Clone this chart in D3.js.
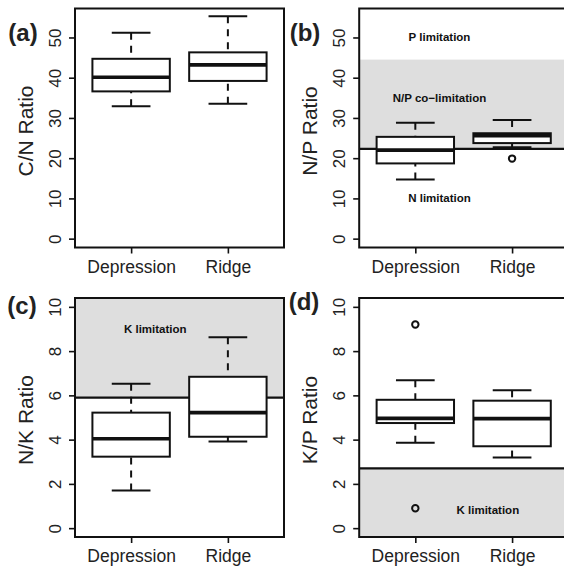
<!DOCTYPE html>
<html>
<head>
<meta charset="utf-8">
<script src="https://cdn.jsdelivr.net/npm/d3@7"></script>
<style>
  html, body { margin: 0; padding: 0; background: #fff; }
  svg { display: block; font-family: "Liberation Sans", Arial, Helvetica, sans-serif; }
</style>
</head>
<body>
<svg id="chart" width="564" height="572"></svg>
<script>
// Sites (x categories)
const categories = ["Depression", "Ridge"];

// Box statistics per site: [lower whisker, Q1, median, Q3, upper whisker]
const cnStats = [[32.9, 36.6, 40.1, 44.7, 51.2], [33.5, 39.2, 43.2, 46.3, 55.3]];
const cnOutliers = [[], []];
const npStats = [[14.7, 18.7, 22.0, 25.3, 28.8], [22.7, 23.75, 25.6, 26.2, 29.5]];
const npOutliers = [[], [19.9]];
const nkStats = [[1.70, 3.23, 4.04, 5.22, 6.53], [3.91, 4.13, 5.22, 6.84, 8.63]];
const nkOutliers = [[], []];
const kpStats = [[3.86, 4.75, 4.96, 5.80, 6.68], [3.19, 3.70, 4.95, 5.76, 6.23]];
const kpOutliers = [[9.2, 0.9], []];

// Axis ticks and limits
const ticksCN = [0, 10, 20, 30, 40, 50];
const ticksNP = [0, 10, 20, 30, 40, 50];
const ticksSmall = [0, 2, 4, 6, 8, 10];
const limitsLarge = [0, 55];
const limitsSmall = [0, 10];

// Nutrient limitation thresholds
const npLowerThreshold = 22.3;   // below: N limitation
const npUpperThreshold = 44.5;   // above: P limitation
const nkThreshold = 5.9;         // above: K limitation
const kpThreshold = 2.7;         // below: K limitation

// Zone labels: [x position (group units), y value, text]
const npLabels = [[1.25, 50, "P limitation"], [1.25, 35, "N/P co\u2212limitation"], [1.25, 10, "N limitation"]];
const nkLabels = [[1.25, 9, "K limitation"]];
const kpLabels = [[1.75, 0.8, "K limitation"]];

const svg = d3.select("#chart");

const panels = [
  { tag: "(a)", title: "C/N Ratio", stats: cnStats, outliers: cnOutliers, ticks: ticksCN, lim: limitsLarge,
    left: 75, top: 8.5, tagX: 23, tagY: 41, titleY: 131,
    shades: [], lines: [], labels: [] },
  { tag: "(b)", title: "N/P Ratio", stats: npStats, outliers: npOutliers, ticks: ticksNP, lim: limitsLarge,
    left: 359.2, top: 8.5, tagX: 305, tagY: 41, titleY: 131,
    shades: [[npLowerThreshold, npUpperThreshold]], lines: [npLowerThreshold], labels: npLabels },
  { tag: "(c)", title: "N/K Ratio", stats: nkStats, outliers: nkOutliers, ticks: ticksSmall, lim: limitsSmall,
    left: 75, top: 298, tagX: 22, tagY: 314, titleY: 420,
    shades: [[nkThreshold, null]], lines: [nkThreshold], labels: nkLabels },
  { tag: "(d)", title: "K/P Ratio", stats: kpStats, outliers: kpOutliers, ticks: ticksSmall, lim: limitsSmall,
    left: 359.2, top: 298, tagX: 304, tagY: 310, titleY: 420,
    shades: [[null, kpThreshold]], lines: [kpThreshold], labels: kpLabels }
];

const plotW = 209, plotH = 239;
const boxWidth = 0.8, capWidth = 0.4;

panels.forEach(p => {
  const pad = (p.lim[1] - p.lim[0]) * 0.04;
  const y = d3.scaleLinear().domain([p.lim[0] - pad, p.lim[1] + pad]).range([p.top + plotH, p.top]);
  const x = d3.scaleLinear().domain([0.42, 2.58]).range([p.left, p.left + plotW]);
  const [y0, y1] = y.domain();

  const g = svg.append("g");

  // shaded limitation zones
  p.shades.forEach(([lo, hi]) => {
    const a = lo == null ? y0 : lo, b = hi == null ? y1 : hi;
    g.append("rect")
      .attr("x", x(0.42)).attr("width", x(2.58) - x(0.42))
      .attr("y", y(b)).attr("height", y(a) - y(b))
      .attr("fill", "#dedede");
  });

  // threshold lines
  p.lines.forEach(v => {
    g.append("line")
      .attr("x1", x(0.42)).attr("x2", x(2.58))
      .attr("y1", y(v)).attr("y2", y(v))
      .attr("stroke", "#111").attr("stroke-width", 2.2);
  });

  // boxes
  p.stats.forEach((s, i) => {
    const cx = i + 1;
    const bg = g.append("g");
    // whiskers (dashed), drawn from whisker end to hinge
    [[s[0], s[1]], [s[4], s[3]]].forEach(([w, h]) => {
      bg.append("line")
        .attr("x1", x(cx)).attr("x2", x(cx))
        .attr("y1", y(w)).attr("y2", y(h))
        .attr("stroke", "#111").attr("stroke-width", 2)
        .attr("stroke-dasharray", "7,6");
      bg.append("line")
        .attr("x1", x(cx - capWidth / 2)).attr("x2", x(cx + capWidth / 2))
        .attr("y1", y(w)).attr("y2", y(w))
        .attr("stroke", "#111").attr("stroke-width", 2);
    });
    bg.append("rect")
      .attr("x", x(cx - boxWidth / 2)).attr("width", x(cx + boxWidth / 2) - x(cx - boxWidth / 2))
      .attr("y", y(s[3])).attr("height", y(s[1]) - y(s[3]))
      .attr("fill", "#fff").attr("stroke", "#111").attr("stroke-width", 2);
    bg.append("line")
      .attr("x1", x(cx - boxWidth / 2)).attr("x2", x(cx + boxWidth / 2))
      .attr("y1", y(s[2])).attr("y2", y(s[2]))
      .attr("stroke", "#111").attr("stroke-width", 3.6);
    p.outliers[i].forEach(v => {
      bg.append("circle")
        .attr("cx", x(cx)).attr("cy", y(v)).attr("r", 3.2)
        .attr("fill", "none").attr("stroke", "#111").attr("stroke-width", 2);
    });
  });

  // zone labels
  p.labels.forEach(([lx, ly, t]) => {
    g.append("text")
      .attr("x", x(lx)).attr("y", y(ly)).attr("dy", "0.35em")
      .attr("text-anchor", "middle")
      .attr("font-size", 11.5).attr("font-weight", "bold").attr("fill", "#111")
      .text(t);
  });

  // plot frame
  g.append("rect")
    .attr("x", p.left).attr("y", p.top).attr("width", plotW).attr("height", plotH)
    .attr("fill", "none").attr("stroke", "#111").attr("stroke-width", 2);

  // y axis
  const ya = g.append("g").attr("transform", `translate(${p.left},0)`)
    .call(d3.axisLeft(y).tickValues(p.ticks).tickSize(6).tickFormat(d3.format("d")));
  ya.select(".domain").remove();
  ya.selectAll(".tick line").attr("stroke", "#111").attr("stroke-width", 1.6);
  ya.selectAll(".tick text")
    .attr("x", null).attr("dy", null)
    .attr("transform", "translate(-14,0) rotate(-90)")
    .attr("text-anchor", "middle")
    .attr("font-size", 17).attr("font-family", null).attr("fill", "#222");

  // x axis
  const xa = g.append("g").attr("transform", `translate(0,${p.top + plotH})`)
    .call(d3.axisBottom(x).tickValues([1, 2]).tickSize(6).tickFormat((d, i) => categories[i]));
  xa.select(".domain").remove();
  xa.selectAll(".tick line").attr("stroke", "#111").attr("stroke-width", 1.6);
  xa.selectAll(".tick text")
    .attr("y", 25).attr("dy", null)
    .attr("font-size", 17.5).attr("font-family", null).attr("fill", "#222");

  // y title
  g.append("text")
    .attr("transform", `translate(${p.left - 42},${p.titleY}) rotate(-90)`)
    .attr("text-anchor", "middle")
    .attr("font-size", 21).attr("fill", "#222")
    .text(p.title);

  // panel tag
  g.append("text")
    .attr("x", p.tagX).attr("y", p.tagY)
    .attr("text-anchor", "middle")
    .attr("font-size", 24).attr("font-weight", "bold").attr("fill", "#222")
    .text(p.tag);
});
</script>
</body>
</html>
